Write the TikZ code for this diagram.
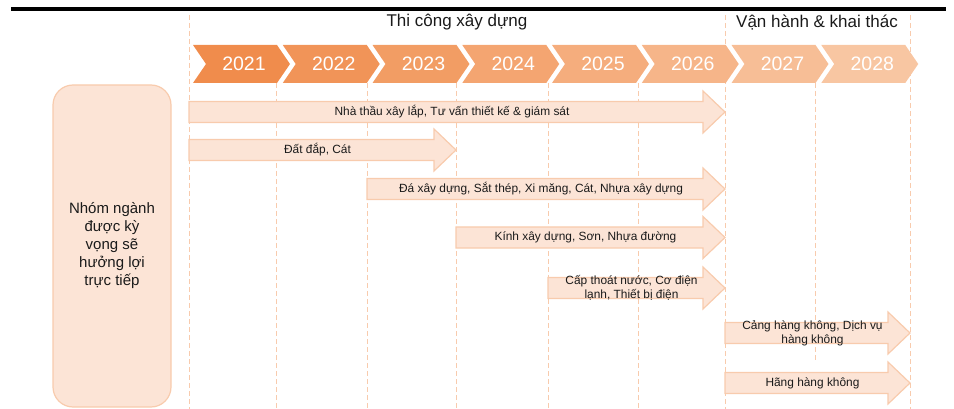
\documentclass[tikz,border=0pt]{standalone}
\usepackage{fontspec}
\setmainfont{Liberation Sans}
\usetikzlibrary{positioning}

\definecolor{chevA}{HTML}{F08C4C}
\definecolor{chevB}{HTML}{F8C6A2}
\definecolor{boxfill}{HTML}{FCE4D6}
\definecolor{boxline}{HTML}{F8CBAD}
\definecolor{txt}{HTML}{1A1A1A}

\tikzset{
  arrowbox/.style={fill=boxfill,draw=boxline,line width=1.2pt},
  arrowtext/.style={text=txt,align=center,inner sep=0pt,font=\fontsize{11.9}{14}\selectfont},
  grid/.style={boxline,line width=1pt,dash pattern=on 5pt off 3pt},
  yearlbl/.style={text=white,font=\fontsize{19.5}{22}\selectfont},
  phase/.style={text=txt,font=\fontsize{17}{20}\selectfont}
}

% name, x1, x2, y, text
\newcommand\blockarrow[5]{%
  \draw[arrowbox] (#2,#4-10.5) -- (#3-22,#4-10.5) -- (#3-22,#4-21) -- (#3,#4)
     -- (#3-22,#4+21) -- (#3-22,#4+10.5) -- (#2,#4+10.5) -- cycle;
  \node[arrowtext] (#1) at ({(#2+#3)/2-5},#4) {#5};
}

\begin{document}
\begin{tikzpicture}[x=1pt,y=-1pt]
\useasboundingbox (0,0) rectangle (954,409);

\def\chevtop{45}
\def\chevbot{83}
\def\chevdx{89.75}

% top rule
\draw[line width=4pt] (11,9) -- (946,9);

% column guides
\foreach \gx in {189,725,910}
  \draw[grid] (\gx,15) -- (\gx,409);
\foreach \gx in {276,367,456,548,638}
  \draw[grid] (\gx,83) -- (\gx,409);
\draw[grid] (815,83) -- (815,362);

% phases
\node[phase] (build) at (457,22) {Thi công xây dựng};
\node[phase] (oper) at (817,23) {Vận hành \& khai thác};

% years
\foreach \yr [count=\i from 0] in {2021,2022,2023,2024,2025,2026,2027,2028} {
  \pgfmathsetmacro\xa{193+\chevdx*\i}
  \pgfmathsetmacro\mix{\i*100/7}
  \fill[chevB!\mix!chevA] (\xa,\chevtop) -- (\xa+84,\chevtop) -- (\xa+97,64)
     -- (\xa+84,\chevbot) -- (\xa,\chevbot) -- (\xa+13,64) -- cycle;
  \node[yearlbl] (y\yr) at (\xa+51,64) {\yr};
}

% group box
\node[fill=boxfill,draw=boxline,line width=1.2pt,rounded corners=20pt,
      minimum width=118pt,minimum height=322pt,align=center,text=txt,
      font=\fontsize{15}{18}\selectfont] (grp) at (112,246)
  {Nhóm ngành\\được kỳ\\vọng sẽ\\hưởng lợi\\trực tiếp};

% sectors
\blockarrow{contr}{189}{725}{112}{Nhà thầu xây lắp, Tư vấn thiết kế \& giám sát}
\blockarrow{earth}{189}{456}{150}{Đất đắp, Cát}
\blockarrow{mater}{367}{725}{189}{Đá xây dựng, Sắt thép, Xi măng, Cát, Nhựa xây dựng}
\blockarrow{glass}{456}{725}{237.5}{Kính xây dựng, Sơn, Nhựa đường}
\blockarrow{mep}{548}{725}{288}{Cấp thoát nước, Cơ điện\\lạnh, Thiết bị điện}
\blockarrow{airport}{725}{910}{333}{Cảng hàng không, Dịch vụ\\hàng không}
\blockarrow{airline}{725}{910}{383}{Hãng hàng không}

\end{tikzpicture}
\end{document}
